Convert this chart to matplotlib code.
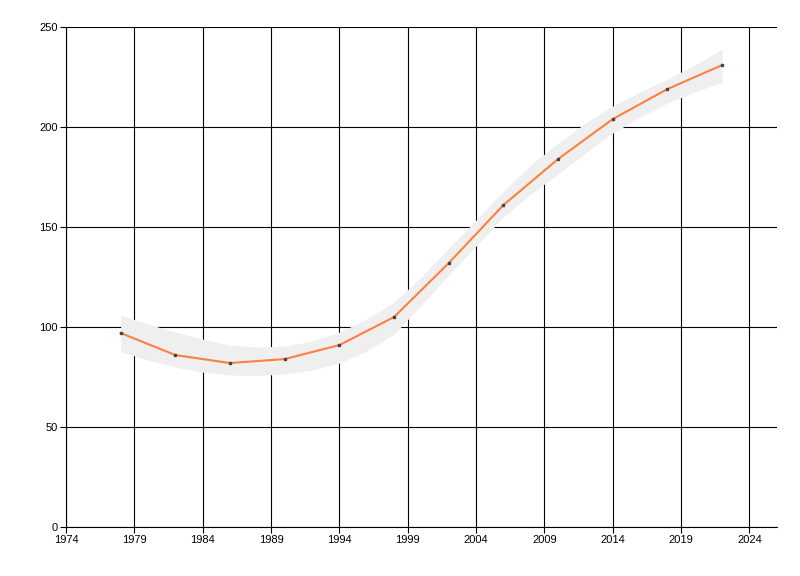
import matplotlib
matplotlib.use("Agg")
import matplotlib.pyplot as plt

# data
years = [1978, 1982, 1986, 1990, 1994, 1998, 2002, 2006, 2010, 2014, 2018, 2022]
values = [97, 86, 82, 84, 91, 105, 132, 161, 184, 204, 219, 231]

# confidence band, read every 2 years
band_years = [1978, 1980, 1982, 1984, 1986, 1988, 1990, 1992, 1994, 1996, 1998, 2000,
              2002, 2004, 2006, 2008, 2010, 2012, 2014, 2016, 2018, 2020, 2022]
band_upper = [106, 101.5, 97.5, 94, 91, 90, 90.5, 93, 97.5, 104, 112.5, 125,
              139.5, 153.5, 168, 181, 192, 202, 210.5, 217.5, 224, 231, 239]
band_lower = [87.7, 83.5, 80, 77.5, 76, 75.8, 76.5, 78.5, 82, 88, 96.5, 111,
              126, 140.5, 155, 166.5, 176.5, 187, 197, 205, 212, 217.5, 222.5]

x_ticks = [1974, 1979, 1984, 1989, 1994, 1999, 2004, 2009, 2014, 2019, 2024]
y_ticks = [0, 50, 100, 150, 200, 250]

plt.rcParams['font.family'] = ['Liberation Sans', 'DejaVu Sans']

fig = plt.figure(figsize=(8, 5.76), dpi=100)
ax = fig.add_axes([0.0825, 0.085, 0.8885, 0.868])

ax.fill_between(band_years, band_lower, band_upper, color='#efefef', linewidth=0, zorder=1)
ax.plot(years, values, color='#ff7f3f', linewidth=1.5, zorder=3)
ax.plot(years, values, linestyle='none', marker='s', markersize=2,
        color='#444444', zorder=4)

ax.set_xlim(1974, 2026)
ax.set_ylim(0, 250)
ax.set_xticks(x_ticks)
ax.set_yticks(y_ticks)

ax.set_axisbelow(True)
ax.grid(True, color='black', linewidth=0.8)

for side in ['top', 'right']:
    ax.spines[side].set_visible(False)
for side in ['left', 'bottom']:
    ax.spines[side].set_color('black')
    ax.spines[side].set_linewidth(0.8)

ax.tick_params(direction='out', length=4, width=0.8, color='black',
               labelsize=8, labelcolor='black', pad=2)

fig.savefig('out.png', dpi=100)
